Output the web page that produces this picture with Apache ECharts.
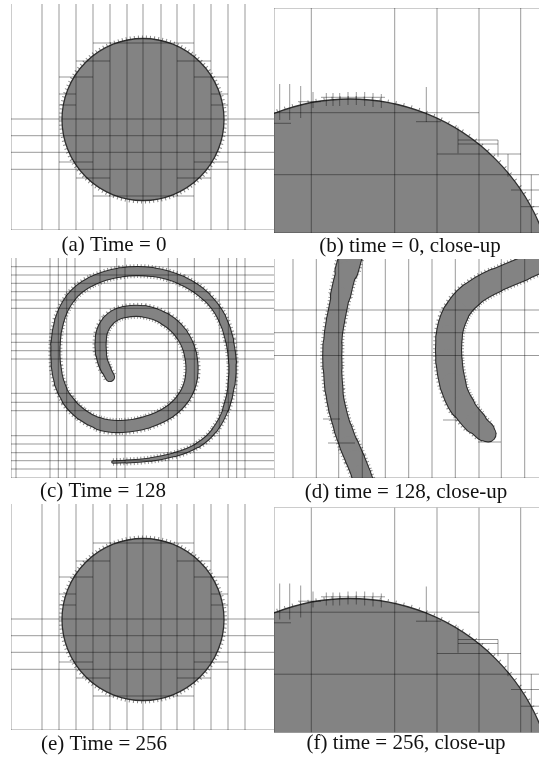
<!DOCTYPE html>
<html>
<head>
<meta charset="utf-8">
<script src="https://cdn.jsdelivr.net/npm/echarts@6/dist/echarts.min.js"></script>
<style>
  html, body { margin: 0; padding: 0; background: #fff; }
  #chart { width: 539px; height: 758px; }
</style>
</head>
<body>
<div id="chart"></div>
<script>
// ---------- data (each panel in its own local units, 0..width / 0..height) ----------
// circle at time 0 / 256 : [cx, cy, r]
const discFull = [132, 115.5, 81];
// same circle, close-up view
const discZoom = [76, 297, 206];

// panel (a)/(e) mesh
const fullVert = [0, 31, 48, 65, 82, 99, 116, 132, 150, 166, 183, 200, 217, 234];
const fullHoriz = [115, 131.7, 148.3, 165.3, 226];
const fullSegH = [ // [x1, x2, y]
  [82, 183, 39], [65, 99, 57], [166, 200, 57], [48, 82, 73], [183, 217, 73],
  [48, 65, 90], [200, 217, 90], [48, 65, 101], [200, 217, 101],
  [48, 82, 158], [183, 217, 158], [65, 99, 174], [166, 200, 174], [82, 183, 192]
];
const fullSegV = [];

// panel (b)/(f) mesh
const zoomVert = [0, 37.3, 120.7, 163, 205, 246.7];
const zoomHoriz = [0, 166.7, 225];
const zoomSegH = [
  [0, 205, 104.7], [142, 167, 113.7], [184, 224, 132], [184, 224, 136], [163, 247, 146],
  [237, 265, 182], [247, 265, 198.7], [47, 111, 89.3], [24, 47, 93.7], [0, 17, 115.3]
];
const zoomSegV = [ // [x, y1, y2]
  [224, 132, 148.7], [234, 146, 168.7], [257.3, 166.7, 225], [184, 118.7, 145.3],
  [5.7, 76, 112], [15.7, 76, 112], [26.7, 78, 110], [39, 84, 100], [52.3, 85, 98],
  [59, 85, 98], [65.7, 85, 98], [74, 84, 97], [82.3, 84, 97], [90.7, 84, 98],
  [99, 85, 99], [107.3, 86, 100], [152.3, 79, 114]
];

// panel (c) spiral centre line: [x, y, width]
const spiral = [
  [102, 204, 1.5], [129, 203, 2], [151, 200, 2.5], [177, 193, 3], [197, 181, 3.5],
  [211, 162, 4], [219, 139, 5], [222, 114, 6], [221, 94, 6.5], [216, 70, 7],
  [205, 48, 7], [185, 29, 7.5], [157, 16, 7.5], [125, 12, 8], [93, 17, 8],
  [67, 30, 8], [52, 50, 8], [45, 74, 8], [44, 98, 8], [46, 117, 8.5],
  [51, 134, 9], [62, 150, 10], [78, 162, 10], [97, 169, 11], [124, 168, 11],
  [149, 160, 11], [167, 148, 11], [179, 130, 11], [182, 108, 11], [177, 85, 11],
  [164, 67, 11], [144, 55, 10.5], [124, 52, 10], [103, 56, 10], [91, 70, 10],
  [89, 87, 10], [91, 104, 9], [99, 119, 8]
];
const spiralVert = [0, 5, 39, 47.3, 55.7, 64, 89, 105.7, 114, 157.3, 166.3, 183.3, 208.3, 217.3, 225.7, 234];
const spiralHoriz = [8.7, 17, 25.3, 33.7, 42, 50.3, 76, 84.3, 92.7, 101, 135.3, 144.3, 152.7,
  177.7, 186, 194.7, 202.7, 211, 220];

// panel (d) close-up of the spiral: two arm pieces [x, y, width]
const armOuter = [
  [78, -10, 22], [76, 0, 22], [69, 24, 19], [64, 49, 17], [59, 74, 17], [58, 97, 18],
  [59, 121, 17], [61, 141, 16], [66, 161, 16], [72, 179, 17], [78, 193, 18],
  [84, 207, 18], [90, 223, 18]
];
const armInner = [
  [272, -2, 22], [264, 4, 21], [234, 16, 22], [207, 28, 23], [187, 44, 24],
  [176, 66, 25], [174, 91, 25], [176, 114, 25], [182, 138, 24], [195, 157, 22],
  [207, 169, 19], [214, 175, 15]
];
const closeVert = [0, 19, 42.3, 64.7, 88.3, 111.3, 134.7, 158, 181.3, 205, 227.3, 250.7];
const closeHoriz = [51, 73.7, 96.5, 219];
const closeSegH = [[49, 66, 160], [54, 81, 184], [169, 184, 161], [204, 227, 183]];

const captions = [
  '(a) Time = 0', '(b) time = 0, close-up',
  '(c) Time = 128', '(d) time = 128, close-up',
  '(e) Time = 256', '(f) time = 256, close-up'
];

// ---------- layout ----------
const panels = [
  { l: 11, t: 4, w: 263, h: 226 },
  { l: 274, t: 8, w: 265, h: 225 },
  { l: 11, t: 258, w: 263, h: 220 },
  { l: 274, t: 259, w: 265, h: 219 },
  { l: 11, t: 504, w: 263, h: 226 },
  { l: 274, t: 507.5, w: 265, h: 225 }
];
const captionPos = [[114, 245], [410, 246], [103, 491], [406, 492], [104, 744], [406, 743]];

const FILL = '#838383';
const EDGE = '#2e2e2e';
const MESH = 'rgba(0,0,0,0.4)';

// ---------- builders ----------
const meshSeries = (i, vert, horiz, segH, segV) => {
  const p = panels[i];
  const segs = []
    .concat(vert.map((x) => [x, 0, x, p.h]))
    .concat(horiz.map((y) => [0, y, p.w, y]))
    .concat(segH.map((s) => [s[0], s[2], s[1], s[2]]))
    .concat(segV.map((s) => [s[0], s[1], s[0], s[2]]));
  return {
    type: 'custom', xAxisIndex: i, yAxisIndex: i, z: 5, silent: true, clip: true,
    data: segs,
    renderItem(params, api) {
      const a = api.coord([api.value(0), api.value(1)]);
      const b = api.coord([api.value(2), api.value(3)]);
      return {
        type: 'line',
        shape: { x1: a[0], y1: a[1], x2: b[0], y2: b[1] },
        style: { stroke: MESH, lineWidth: 1 }
      };
    }
  };
};

const discSeries = (i, disc, tickDash) => ({
  type: 'custom', xAxisIndex: i, yAxisIndex: i, z: 2, silent: true, clip: true,
  data: [disc],
  renderItem(params, api) {
    const c = api.coord([api.value(0), api.value(1)]);
    const r = api.size([api.value(2), 0])[0];
    return {
      type: 'group',
      children: [
        { type: 'circle', shape: { cx: c[0], cy: c[1], r: r },
          style: { fill: 'none', stroke: 'rgba(40,40,40,0.55)', lineWidth: 6, lineDash: tickDash } },
        { type: 'circle', shape: { cx: c[0], cy: c[1], r: r },
          style: { fill: FILL, stroke: EDGE, lineWidth: 1.3 } }
      ]
    };
  }
});

// band drawn piece by piece as quadratic curves through the read centre points
const bandSeries = (i, pts, extra, color, dash, z) => ({
  type: 'custom', xAxisIndex: i, yAxisIndex: i, z: z, silent: true, clip: true,
  data: pts,
  renderItem(params, api) {
    const k = params.dataIndex;
    const n = pts.length;
    const cur = api.coord([pts[k][0], pts[k][1]]);
    const prev = api.coord([pts[Math.max(k - 1, 0)][0], pts[Math.max(k - 1, 0)][1]]);
    const next = api.coord([pts[Math.min(k + 1, n - 1)][0], pts[Math.min(k + 1, n - 1)][1]]);
    const s = k === 0 ? cur : [(prev[0] + cur[0]) / 2, (prev[1] + cur[1]) / 2];
    const e = k === n - 1 ? cur : [(next[0] + cur[0]) / 2, (next[1] + cur[1]) / 2];
    const w = api.size([api.value(2), 0])[0];
    return {
      type: 'bezierCurve',
      shape: { x1: s[0], y1: s[1], x2: e[0], y2: e[1], cpx1: cur[0], cpy1: cur[1] },
      style: { fill: 'none', stroke: color, lineWidth: w + extra, lineCap: dash ? 'butt' : 'round', lineDash: dash || null }
    };
  }
});

const bandLayers = (i, pts) => [
  bandSeries(i, pts, 6, 'rgba(40,40,40,0.5)', [1, 2.5], 1),
  bandSeries(i, pts, 2.2, EDGE, null, 2),
  bandSeries(i, pts, 0, FILL, null, 3)
];

// ---------- chart ----------
const chart = echarts.init(document.getElementById('chart'));

const option = {
  animation: false,
  backgroundColor: '#ffffff',
  grid: panels.map((p) => ({ left: p.l, top: p.t, width: p.w, height: p.h, show: false })),
  xAxis: panels.map((p, i) => ({ type: 'value', gridIndex: i, min: 0, max: p.w, show: false })),
  yAxis: panels.map((p, i) => ({ type: 'value', gridIndex: i, min: 0, max: p.h, inverse: true, show: false })),
  series: [
    discSeries(0, discFull, [1, 3]),
    meshSeries(0, fullVert, fullHoriz, fullSegH, fullSegV),
    discSeries(1, discZoom, [1, 7]),
    meshSeries(1, zoomVert, zoomHoriz, zoomSegH, zoomSegV),
    ...bandLayers(2, spiral),
    meshSeries(2, spiralVert, spiralHoriz, [], []),
    ...bandLayers(3, armOuter),
    ...bandLayers(3, armInner),
    meshSeries(3, closeVert, closeHoriz, closeSegH, []),
    discSeries(4, discFull, [1, 3]),
    meshSeries(4, fullVert, fullHoriz, fullSegH, fullSegV),
    discSeries(5, discZoom, [1, 7]),
    meshSeries(5, zoomVert, zoomHoriz, zoomSegH, zoomSegV)
  ],
  graphic: captions.map((text, i) => ({
    type: 'text',
    x: captionPos[i][0],
    y: captionPos[i][1],
    style: {
      text: text,
      font: '21px "Liberation Serif", "Times New Roman", serif',
      fill: '#111',
      align: 'center',
      verticalAlign: 'middle',
      textAlign: 'center',
      textVerticalAlign: 'middle'
    }
  }))
};

chart.setOption(option);
window.addEventListener('resize', () => chart.resize());
</script>
</body>
</html>
